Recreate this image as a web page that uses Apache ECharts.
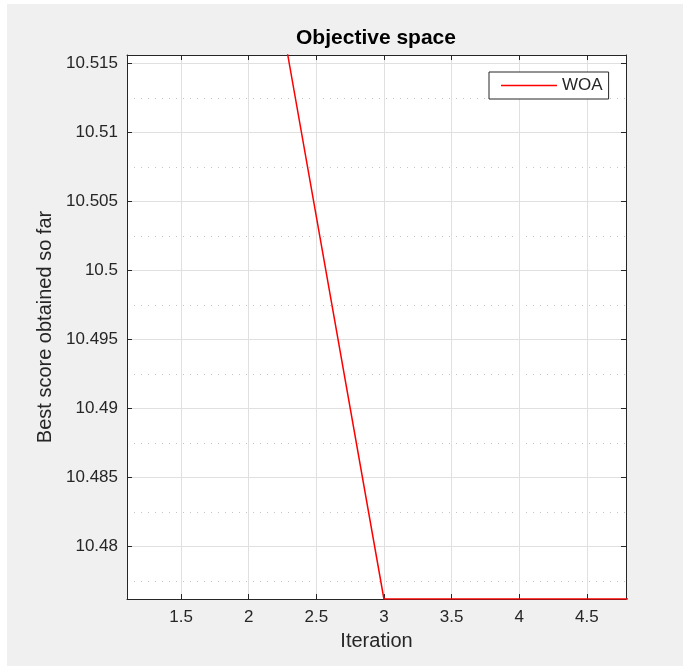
<!DOCTYPE html>
<html>
<head>
<meta charset="utf-8">
<script src="https://cdn.jsdelivr.net/npm/echarts@6/dist/echarts.min.js"></script>
<style>
  html, body { margin: 0; padding: 0; background: #ffffff; width: 683px; height: 666px; overflow: hidden; }
  #chart { position: absolute; left: 7px; top: 4px; width: 676px; height: 662px; }
</style>
</head>
<body>
<div id="chart"></div>
<script>
// ---- data ----
const iterations = [1, 2, 3, 4, 5];
const bestScore = [10.57, 10.5316, 10.4762, 10.4762, 10.4762];
const xTicks = [1.5, 2, 2.5, 3, 3.5, 4, 4.5];
const xTickLabels = ['1.5', '2', '2.5', '3', '3.5', '4', '4.5'];
const yTicks = [10.48, 10.485, 10.49, 10.495, 10.5, 10.505, 10.51, 10.515];
const yTickLabels = ['10.48', '10.485', '10.49', '10.495', '10.5', '10.505', '10.51', '10.515'];
const yMinorTicks = [10.4775, 10.4825, 10.4875, 10.4925, 10.4975, 10.5025, 10.5075, 10.5125];
const xRange = [1.1, 4.79];
const yRange = [10.4762, 10.5156];
const seriesName = 'WOA';
const titleText = 'Objective space';
const xName = 'Iteration';
const yName = 'Best score obtained so far';

const axisColor = '#262626';
const lineColor = '#ff0000';
const fontFam = '"Liberation Sans", Arial, Helvetica, sans-serif';

function labelFor(ticks, labels) {
  return function (v) {
    for (let i = 0; i < ticks.length; i++) {
      if (Math.abs(ticks[i] - v) < 1e-9) return labels[i];
    }
    return '';
  };
}

const chart = echarts.init(document.getElementById('chart'), null, { renderer: 'canvas' });

const option = {
  backgroundColor: '#f0f0f0',
  animation: false,
  textStyle: { fontFamily: fontFam },
  grid: {
    left: 120, top: 51, right: 57, bottom: 67,
    show: true, backgroundColor: '#ffffff', borderWidth: 0,
    containLabel: false
  },
  graphic: [{
    type: 'text',
    x: 369, y: 24,
    style: {
      text: titleText,
      textAlign: 'center',
      textVerticalAlign: 'top',
      font: 'bold 21px ' + fontFam,
      fill: '#000000'
    },
    silent: true
  }],
  legend: {
    left: 482, top: 68,
    orient: 'vertical',
    padding: [5, 6, 5, 12],
    itemWidth: 56, itemHeight: 1.5, itemGap: 0,
    backgroundColor: '#ffffff',
    borderColor: axisColor, borderWidth: 1,
    textStyle: { fontSize: 17, lineHeight: 17, color: axisColor, fontFamily: fontFam },
    data: [{ name: seriesName, icon: 'rect', itemStyle: { color: lineColor } }]
  },
  xAxis: [{
    type: 'value', position: 'bottom', min: xRange[0], max: xRange[1],
    name: xName, nameLocation: 'middle', nameGap: 32,
    nameTextStyle: { fontSize: 20, color: axisColor, fontFamily: fontFam },
    axisLine: { show: true, onZero: false, lineStyle: { color: axisColor, width: 1 } },
    axisTick: { show: true, inside: true, length: 5, customValues: xTicks, lineStyle: { color: axisColor } },
    axisLabel: { show: true, customValues: xTicks, formatter: labelFor(xTicks, xTickLabels), fontSize: 17, color: axisColor, margin: 10, fontFamily: fontFam },
    splitLine: { show: true, lineStyle: { color: '#e0e0e0', width: 1 } },
    z: 3
  }, {
    type: 'value', position: 'top', min: xRange[0], max: xRange[1],
    axisLine: { show: true, onZero: false, lineStyle: { color: axisColor, width: 1 } },
    axisTick: { show: true, inside: true, length: 5, customValues: xTicks, lineStyle: { color: axisColor } },
    axisLabel: { show: false },
    splitLine: { show: false },
    z: 3
  }],
  yAxis: [{
    type: 'value', position: 'left', min: yRange[0], max: yRange[1],
    name: yName, nameLocation: 'middle', nameGap: 72,
    nameTextStyle: { fontSize: 20, color: axisColor, fontFamily: fontFam },
    axisLine: { show: true, onZero: false, lineStyle: { color: axisColor, width: 1 } },
    axisTick: { show: true, inside: true, length: 5, customValues: yTicks, lineStyle: { color: axisColor } },
    axisLabel: { show: true, customValues: yTicks, formatter: labelFor(yTicks, yTickLabels), fontSize: 17, color: axisColor, margin: 9, fontFamily: fontFam },
    splitLine: { show: true, lineStyle: { color: '#e0e0e0', width: 1 } },
    z: 3
  }, {
    type: 'value', position: 'right', min: yRange[0], max: yRange[1],
    axisLine: { show: true, onZero: false, lineStyle: { color: axisColor, width: 1 } },
    axisTick: { show: true, inside: true, length: 5, customValues: yTicks, lineStyle: { color: axisColor } },
    axisLabel: { show: false },
    splitLine: { show: false },
    z: 3
  }, {
    type: 'value', position: 'left', min: yRange[0], max: yRange[1],
    axisLine: { show: false },
    axisTick: { show: false, customValues: yMinorTicks },
    axisLabel: { show: false, customValues: yMinorTicks },
    splitLine: { show: true, lineStyle: { color: '#c4c4c4', width: 1, type: [1, 6] } },
    z: 1
  }],
  series: [{
    name: seriesName,
    type: 'line',
    xAxisIndex: 0, yAxisIndex: 0,
    data: iterations.map((x, i) => [x, bestScore[i]]),
    symbol: 'none',
    clip: true,
    color: lineColor,
    lineStyle: { color: lineColor, width: 1.5 },
    itemStyle: { color: lineColor },
    z: 5
  }]
};
chart.setOption(option);
</script>
</body>
</html>
